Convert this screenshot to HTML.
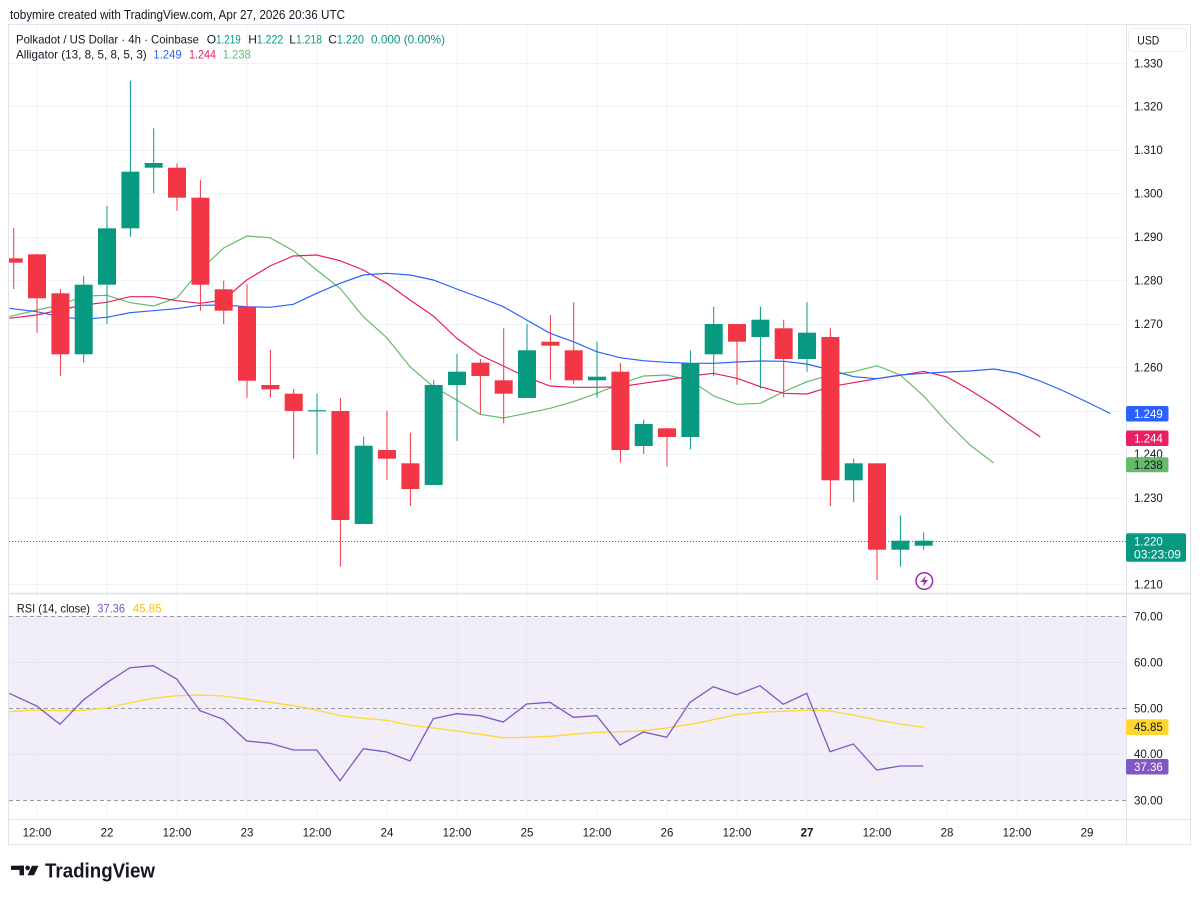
<!DOCTYPE html>
<html>
<head>
<meta charset="utf-8">
<style>
html,body{margin:0;padding:0;background:#ffffff;}
body{width:1200px;height:900px;overflow:hidden;}
svg{display:block;font-family:"Liberation Sans",Arial,sans-serif;}
</style>
</head>
<body>
<svg width="1200" height="900" viewBox="0 0 1200 900" xmlns="http://www.w3.org/2000/svg">
<defs>
  <clipPath id="pp"><rect x="9" y="25" width="1117" height="568"/></clipPath>
  <clipPath id="rp"><rect x="9" y="594" width="1117" height="225"/></clipPath>
</defs>
<rect x="0" y="0" width="1200" height="900" fill="#ffffff"/>

<!-- header -->
<text x="10" y="19" font-size="12.5" fill="#131722" textLength="335" lengthAdjust="spacingAndGlyphs">tobymire created with TradingView.com, Apr 27, 2026 20:36 UTC</text>

<!-- RSI background -->
<rect x="9" y="616" width="1117" height="184" fill="#f2eef9"/>

<!-- vertical grid -->
<g stroke="#f0f3fa" stroke-width="1">
  <line x1="37" y1="25" x2="37" y2="819"/>
  <line x1="107" y1="25" x2="107" y2="819"/>
  <line x1="177" y1="25" x2="177" y2="819"/>
  <line x1="247" y1="25" x2="247" y2="819"/>
  <line x1="317" y1="25" x2="317" y2="819"/>
  <line x1="387" y1="25" x2="387" y2="819"/>
  <line x1="457" y1="25" x2="457" y2="819"/>
  <line x1="527" y1="25" x2="527" y2="819"/>
  <line x1="597" y1="25" x2="597" y2="819"/>
  <line x1="667" y1="25" x2="667" y2="819"/>
  <line x1="737" y1="25" x2="737" y2="819"/>
  <line x1="807" y1="25" x2="807" y2="819"/>
  <line x1="877" y1="25" x2="877" y2="819"/>
  <line x1="947" y1="25" x2="947" y2="819"/>
  <line x1="1017" y1="25" x2="1017" y2="819"/>
  <line x1="1087" y1="25" x2="1087" y2="819"/>
</g>
<g stroke="#e9e5f2" stroke-width="1">
  <line x1="37" y1="616" x2="37" y2="800"/>
  <line x1="107" y1="616" x2="107" y2="800"/>
  <line x1="177" y1="616" x2="177" y2="800"/>
  <line x1="247" y1="616" x2="247" y2="800"/>
  <line x1="317" y1="616" x2="317" y2="800"/>
  <line x1="387" y1="616" x2="387" y2="800"/>
  <line x1="457" y1="616" x2="457" y2="800"/>
  <line x1="527" y1="616" x2="527" y2="800"/>
  <line x1="597" y1="616" x2="597" y2="800"/>
  <line x1="667" y1="616" x2="667" y2="800"/>
  <line x1="737" y1="616" x2="737" y2="800"/>
  <line x1="807" y1="616" x2="807" y2="800"/>
  <line x1="877" y1="616" x2="877" y2="800"/>
  <line x1="947" y1="616" x2="947" y2="800"/>
  <line x1="1017" y1="616" x2="1017" y2="800"/>
  <line x1="1087" y1="616" x2="1087" y2="800"/>
</g>
<!-- horizontal grid price -->
<g stroke="#f0f3fa" stroke-width="1">
  <line x1="9" y1="63.5" x2="1126" y2="63.5"/>
  <line x1="9" y1="106.5" x2="1126" y2="106.5"/>
  <line x1="9" y1="150.5" x2="1126" y2="150.5"/>
  <line x1="9" y1="193.5" x2="1126" y2="193.5"/>
  <line x1="9" y1="237.5" x2="1126" y2="237.5"/>
  <line x1="9" y1="280.5" x2="1126" y2="280.5"/>
  <line x1="9" y1="324.5" x2="1126" y2="324.5"/>
  <line x1="9" y1="367.5" x2="1126" y2="367.5"/>
  <line x1="9" y1="411.5" x2="1126" y2="411.5"/>
  <line x1="9" y1="454.5" x2="1126" y2="454.5"/>
  <line x1="9" y1="498.5" x2="1126" y2="498.5"/>
  <line x1="9" y1="541.5" x2="1126" y2="541.5"/>
  <line x1="9" y1="584.5" x2="1126" y2="584.5"/>
</g>
<!-- RSI grid -->
<g stroke="#e6e2ef" stroke-width="1">
  <line x1="9" y1="662.5" x2="1126" y2="662.5"/>
  <line x1="9" y1="754.5" x2="1126" y2="754.5"/>
</g>
<g stroke="#9598a1" stroke-width="1" stroke-dasharray="4 3">
  <line x1="9" y1="616.5" x2="1126" y2="616.5"/>
  <line x1="9" y1="708.5" x2="1126" y2="708.5"/>
  <line x1="9" y1="800.5" x2="1126" y2="800.5"/>
</g>

<!-- frame -->
<g stroke="#e0e3eb" stroke-width="1" fill="none">
  <rect x="8.5" y="24.5" width="1182" height="820"/>
  <line x1="1126.5" y1="24.5" x2="1126.5" y2="844.5"/>
  <line x1="8.5" y1="819.5" x2="1190.5" y2="819.5"/>
</g>
<line x1="8.5" y1="593.5" x2="1190.5" y2="593.5" stroke="#dcdfe6" stroke-width="1.6"/>

<g clip-path="url(#pp)">
<!-- current price line -->
<line x1="9" y1="541.5" x2="1126" y2="541.5" stroke="#089981" stroke-width="1" stroke-dasharray="1 2"/>

<!-- alligator -->
<polyline fill="none" stroke="#66bb6a" stroke-width="1.2" points="9.3,316.7 37,310 60.3,305 83.7,296 107,295.3 130.3,302.7 153.7,306 177,297.7 200.3,270 223.7,248 247,236 270,237.7 293.3,250.7 316.7,270 340,288.3 363.3,316.7 386.7,337.7 410,366.7 433.3,386.7 456.7,400 480,414.3 503.3,418 526.7,413.3 550,408.3 573.3,401.7 596.7,393.3 620,384 643.3,376 666.7,375 690,380 713.7,396 737,404.3 760.3,403.3 783.7,391.7 807,381.7 830.3,375 853.7,371.7 877,365.7 900.3,375 923.7,396 947,422 970,445 993.7,463"/>
<polyline fill="none" stroke="#e91e63" stroke-width="1.2" points="9.3,318.3 36.7,315 60,310 83.3,305 106.7,302.3 130,296.7 153.3,296.7 176.7,300.7 200,303.3 223.3,300 246.7,280 270,266 293.3,256 316.7,255 340,260.7 363.3,270 386.7,283.3 410,300 433.3,316 456.7,338.3 480,355 503.3,366 526.7,377.3 550,386 573.3,387.3 596.7,387.3 620,386.7 643.3,383.3 666.7,380 690,376 713.7,373.3 737,378.3 760.3,386.7 783.7,393.3 807,394 830.3,386.7 853.7,382.7 877,378.7 900.3,375.3 923.7,371.3 947,377 970,390 993.7,405 1017,421 1040.3,437"/>
<polyline fill="none" stroke="#2962ff" stroke-width="1.2" points="9.3,308.3 36.7,311.7 60,316.7 83.3,319.3 106.7,317.3 130,312.7 153.3,310.7 176.7,308.7 200,305.3 223.3,305 246.7,306.7 270,307.3 293.3,304.3 316.7,293.3 340,283.3 363.3,275 386.7,273.3 410,275 433.3,280 456.7,289 480,297.5 503.3,306.7 526.7,320 550,333.3 573.3,341.7 596.7,351.7 620,357.7 643.3,360.7 666.7,362.3 690,363.3 713.7,363.3 737,362 760.3,361 783.7,361.3 807,364 830.3,370 853.7,376.7 877,378.7 900.3,375 923.7,373.3 947,372 970,371 993.7,369 1017,373 1040,381 1063.7,391 1087,402 1110.3,413.5"/>

<!-- red candles -->
<g fill="#f23645" stroke="#f23645" stroke-width="1">
  <line x1="13.7" y1="228" x2="13.7" y2="289"/><rect x="4.7" y="258.3" width="18" height="4.4" stroke="none"/>
  <line x1="37" y1="254.3" x2="37" y2="332.7"/><rect x="28" y="254.3" width="18" height="44" stroke="none"/>
  <line x1="60.4" y1="289" x2="60.4" y2="376"/><rect x="51.4" y="293.3" width="18" height="61" stroke="none"/>
  <line x1="177" y1="163.3" x2="177" y2="210.7"/><rect x="168" y="167.7" width="18" height="30" stroke="none"/>
  <line x1="200.4" y1="180" x2="200.4" y2="310.7"/><rect x="191.4" y="197.7" width="18" height="87" stroke="none"/>
  <line x1="223.7" y1="280.7" x2="223.7" y2="324"/><rect x="214.7" y="289.3" width="18" height="21.4" stroke="none"/>
  <line x1="247" y1="284.3" x2="247" y2="397.7"/><rect x="238" y="306.7" width="18" height="74" stroke="none"/>
  <line x1="270.4" y1="350" x2="270.4" y2="397.7"/><rect x="261.4" y="385" width="18" height="4.3" stroke="none"/>
  <line x1="293.7" y1="389" x2="293.7" y2="458.7"/><rect x="284.7" y="393.7" width="18" height="17.3" stroke="none"/>
  <line x1="340.4" y1="397.7" x2="340.4" y2="566.7"/><rect x="331.4" y="411" width="18" height="109" stroke="none"/>
  <line x1="387" y1="410.7" x2="387" y2="480"/><rect x="378" y="450" width="18" height="8.7" stroke="none"/>
  <line x1="410.4" y1="432.7" x2="410.4" y2="506"/><rect x="401.4" y="463.3" width="18" height="25.7" stroke="none"/>
  <line x1="480.4" y1="359" x2="480.4" y2="414.3"/><rect x="471.4" y="362.7" width="18" height="13.3" stroke="none"/>
  <line x1="503.7" y1="328.3" x2="503.7" y2="423.3"/><rect x="494.7" y="380.3" width="18" height="13.4" stroke="none"/>
  <line x1="550.4" y1="315" x2="550.4" y2="380"/><rect x="541.4" y="341.7" width="18" height="4" stroke="none"/>
  <line x1="573.7" y1="302.3" x2="573.7" y2="384.3"/><rect x="564.7" y="350.3" width="18" height="30" stroke="none"/>
  <line x1="620.4" y1="363" x2="620.4" y2="462.7"/><rect x="611.4" y="371.7" width="18" height="78.3" stroke="none"/>
  <line x1="667" y1="428.3" x2="667" y2="466.7"/><rect x="658" y="428.3" width="18" height="8.7" stroke="none"/>
  <line x1="737" y1="324" x2="737" y2="384.7"/><rect x="728" y="324" width="18" height="17.7" stroke="none"/>
  <line x1="783.7" y1="319.7" x2="783.7" y2="397.3"/><rect x="774.7" y="328.3" width="18" height="30.7" stroke="none"/>
  <line x1="830.4" y1="328.3" x2="830.4" y2="506"/><rect x="821.4" y="337" width="18" height="143.3" stroke="none"/>
  <line x1="877" y1="463.3" x2="877" y2="580"/><rect x="868" y="463.3" width="18" height="86.4" stroke="none"/>
</g>
<!-- green candles -->
<g fill="#089981" stroke="#089981" stroke-width="1">
  <line x1="83.7" y1="276" x2="83.7" y2="362.7"/><rect x="74.7" y="284.7" width="18" height="69.6" stroke="none"/>
  <line x1="107" y1="206" x2="107" y2="324"/><rect x="98" y="228.3" width="18" height="56.4" stroke="none"/>
  <line x1="130.4" y1="80.7" x2="130.4" y2="236.7"/><rect x="121.4" y="171.7" width="18" height="56.6" stroke="none"/>
  <line x1="153.7" y1="128.3" x2="153.7" y2="193.3"/><rect x="144.7" y="163" width="18" height="4.7" stroke="none"/>
  <line x1="317" y1="393.7" x2="317" y2="454.3"/><rect x="308" y="410.2" width="18" height="1.2" stroke="none"/>
  <line x1="363.7" y1="436.7" x2="363.7" y2="524"/><rect x="354.7" y="445.7" width="18" height="78.3" stroke="none"/>
  <line x1="433.7" y1="380" x2="433.7" y2="485"/><rect x="424.7" y="385" width="18" height="100" stroke="none"/>
  <line x1="457" y1="354" x2="457" y2="441"/><rect x="448" y="371.7" width="18" height="13.3" stroke="none"/>
  <line x1="527" y1="324" x2="527" y2="398"/><rect x="518" y="350.3" width="18" height="47.7" stroke="none"/>
  <line x1="597" y1="341.7" x2="597" y2="397.7"/><rect x="588" y="376.7" width="18" height="3.6" stroke="none"/>
  <line x1="643.7" y1="419.7" x2="643.7" y2="454"/><rect x="634.7" y="424" width="18" height="22" stroke="none"/>
  <line x1="690.4" y1="350.3" x2="690.4" y2="449.3"/><rect x="681.4" y="363.3" width="18" height="73.7" stroke="none"/>
  <line x1="713.7" y1="306.7" x2="713.7" y2="376"/><rect x="704.7" y="324" width="18" height="30.3" stroke="none"/>
  <line x1="760.4" y1="306.7" x2="760.4" y2="388.7"/><rect x="751.4" y="319.7" width="18" height="17.3" stroke="none"/>
  <line x1="807" y1="302.3" x2="807" y2="371.7"/><rect x="798" y="332.7" width="18" height="26.3" stroke="none"/>
  <line x1="853.7" y1="458.7" x2="853.7" y2="502"/><rect x="844.7" y="463.3" width="18" height="17" stroke="none"/>
  <line x1="900.4" y1="515.3" x2="900.4" y2="566.7"/><rect x="891.4" y="540.7" width="18" height="9" stroke="none"/>
  <line x1="923.7" y1="532.3" x2="923.7" y2="549.7"/><rect x="914.7" y="540.7" width="18" height="5" stroke="none"/>
</g>

<!-- lightning icon -->
<circle cx="924.3" cy="581" r="8.3" fill="#ffffff" stroke="#9c27b0" stroke-width="1.5"/>
<path d="M926,575.5 L920.6,582 L924,582 L922.6,586.7 L928,580 L924.6,580 Z" fill="#9c27b0"/>
</g>

<!-- RSI lines -->
<g clip-path="url(#rp)">
<polyline fill="none" stroke="#fdd835" stroke-width="1.3" points="9.3,711.7 36.7,710 60,710.7 83.3,710.3 106.7,708 130,702.7 153.3,698.3 176.7,695.7 200,695 223.3,696 246.7,699 270,702.3 293.3,705.7 316.7,710 340,715.7 363.3,718.3 386.7,720.3 410,725.3 433.3,728 456.7,731 480,734.3 503.3,737.7 526.7,737.3 550,736.3 573.3,734.3 596.7,732.3 620,731.7 643.3,730.7 666.7,728 690,724.3 713.3,719.7 736.7,714.7 760,712.3 783.3,711.3 806.7,710 830,711 853.3,715 876.7,720 900,724 923.3,727.3"/>
<polyline fill="none" stroke="#7e57c2" stroke-width="1.3" points="9.3,693.3 36.7,706 60,724.3 83.3,700 106.7,682.7 130,667.7 153.3,665.7 176.7,679 200,710.7 223.3,719.3 246.7,741 270,743.3 293.3,750 316.7,750 340,780.7 363.3,748.7 386.7,752 410,761 433.3,718.7 456.7,713.7 480,715.7 503.3,722 526.7,704 550,702.3 573.3,717.3 596.7,715.7 620,745 643.3,732 666.7,737.3 690,702.3 713.3,686.7 736.7,694.7 760,685.7 783.3,704.3 806.7,693.3 830,751.7 853.3,744 876.7,770 900,766 923.3,766"/>
</g>

<!-- legends -->
<g font-size="12" fill="#131722">
  <text x="16" y="43.5" textLength="183" lengthAdjust="spacingAndGlyphs">Polkadot / US Dollar · 4h · Coinbase</text>
  <text x="206.7" y="43.5">O</text>
  <text x="216" y="43.5" fill="#089981" textLength="24.7" lengthAdjust="spacingAndGlyphs">1.219</text>
  <text x="248.3" y="43.5">H</text>
  <text x="256.7" y="43.5" fill="#089981" textLength="26.6" lengthAdjust="spacingAndGlyphs">1.222</text>
  <text x="289.3" y="43.5">L</text>
  <text x="296" y="43.5" fill="#089981" textLength="26" lengthAdjust="spacingAndGlyphs">1.218</text>
  <text x="328.3" y="43.5">C</text>
  <text x="336.7" y="43.5" fill="#089981" textLength="27.3" lengthAdjust="spacingAndGlyphs">1.220</text>
  <text x="371" y="43.5" fill="#089981" textLength="74" lengthAdjust="spacingAndGlyphs">0.000 (0.00%)</text>
  <text x="16" y="58.5" textLength="130.7" lengthAdjust="spacingAndGlyphs">Alligator (13, 8, 5, 8, 5, 3)</text>
  <text x="153.3" y="58.5" fill="#2962ff" textLength="28.4" lengthAdjust="spacingAndGlyphs">1.249</text>
  <text x="189" y="58.5" fill="#e91e63" textLength="27" lengthAdjust="spacingAndGlyphs">1.244</text>
  <text x="222.7" y="58.5" fill="#66bb6a" textLength="28" lengthAdjust="spacingAndGlyphs">1.238</text>
  <text x="16.7" y="612.5" textLength="73.3" lengthAdjust="spacingAndGlyphs">RSI (14, close)</text>
  <text x="97.3" y="612.5" fill="#7e57c2" textLength="27.7" lengthAdjust="spacingAndGlyphs">37.36</text>
  <text x="132.7" y="612.5" fill="#f5c518" textLength="29" lengthAdjust="spacingAndGlyphs">45.85</text>
</g>

<!-- USD box -->
<rect x="1128.5" y="28.5" width="58" height="23" rx="4" fill="#ffffff" stroke="#eceef2"/>
<text x="1137.3" y="44.5" font-size="12" fill="#131722" textLength="22" lengthAdjust="spacingAndGlyphs">USD</text>

<!-- price axis labels -->
<g font-size="11.5" fill="#131722">
  <text x="1134" y="67.5">1.330</text>
  <text x="1134" y="110.5">1.320</text>
  <text x="1134" y="154">1.310</text>
  <text x="1134" y="197.5">1.300</text>
  <text x="1134" y="241">1.290</text>
  <text x="1134" y="284.5">1.280</text>
  <text x="1134" y="328">1.270</text>
  <text x="1134" y="371.5">1.260</text>
  <text x="1134" y="458">1.240</text>
  <text x="1134" y="502">1.230</text>
  <text x="1134" y="588.5">1.210</text>
  <text x="1134" y="620.5">70.00</text>
  <text x="1134" y="666.3">60.00</text>
  <text x="1134" y="712.3">50.00</text>
  <text x="1134" y="758">40.00</text>
  <text x="1134" y="804.3">30.00</text>
</g>

<!-- price label boxes -->
<rect x="1126" y="406" width="42.5" height="15.5" rx="2" fill="#2962ff"/>
<text x="1134" y="417.8" font-size="11.5" fill="#ffffff">1.249</text>
<rect x="1126" y="430.5" width="42.5" height="15.5" rx="2" fill="#e91e63"/>
<text x="1134" y="442.3" font-size="11.5" fill="#ffffff">1.244</text>
<rect x="1126" y="457.3" width="42.5" height="15" rx="2" fill="#66bb6a"/>
<text x="1134" y="469" font-size="11.5" fill="#131722">1.238</text>
<rect x="1126" y="533.3" width="60" height="28.4" rx="2" fill="#089981"/>
<text x="1134" y="545.3" font-size="11.5" fill="#ffffff">1.220</text>
<text x="1134" y="558.3" font-size="11.5" fill="#ffffff" textLength="47" lengthAdjust="spacingAndGlyphs">03:23:09</text>

<rect x="1126" y="719.3" width="42.5" height="15.7" rx="2" fill="#ffd52e"/>
<text x="1134" y="731.2" font-size="11.5" fill="#131722">45.85</text>
<rect x="1126" y="759" width="42.5" height="15.5" rx="2" fill="#7e57c2"/>
<text x="1134" y="770.8" font-size="11.5" fill="#ffffff">37.36</text>

<!-- time axis -->
<g font-size="11.5" fill="#131722" text-anchor="middle">
  <text x="37" y="836.5">12:00</text>
  <text x="107" y="836.5">22</text>
  <text x="177" y="836.5">12:00</text>
  <text x="247" y="836.5">23</text>
  <text x="317" y="836.5">12:00</text>
  <text x="387" y="836.5">24</text>
  <text x="457" y="836.5">12:00</text>
  <text x="527" y="836.5">25</text>
  <text x="597" y="836.5">12:00</text>
  <text x="667" y="836.5">26</text>
  <text x="737" y="836.5">12:00</text>
  <text x="807" y="836.5" font-weight="bold">27</text>
  <text x="877" y="836.5">12:00</text>
  <text x="947" y="836.5">28</text>
  <text x="1017" y="836.5">12:00</text>
  <text x="1087" y="836.5">29</text>
</g>

<!-- TradingView logo -->
<g fill="#131722">
  <rect x="11" y="865.7" width="13" height="4.2"/>
  <rect x="19.5" y="865.7" width="4.5" height="9.6"/>
  <circle cx="27.6" cy="867.9" r="2.3"/>
  <path d="M32,865.7 L38.5,865.7 L34,875.3 L27.5,875.3 Z"/>
  <text x="45" y="877.5" font-size="20" font-weight="bold" textLength="110" lengthAdjust="spacingAndGlyphs">TradingView</text>
</g>
</svg>
</body>
</html>
